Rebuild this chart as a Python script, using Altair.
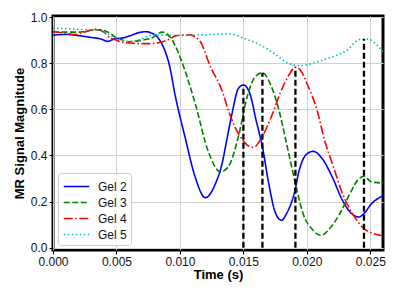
import altair as alt
import pandas as pd

# ---- data ----
gel2_t = [0, 0.001, 0.002, 0.003, 0.0038, 0.0043, 0.0048, 0.0055, 0.006, 0.0067, 0.0073, 0.0078,
          0.0082, 0.0087, 0.0092, 0.0096, 0.0104, 0.0112, 0.012, 0.0128, 0.0133, 0.0137, 0.0141,
          0.0146, 0.015, 0.0155, 0.016, 0.0165, 0.017, 0.0175, 0.018, 0.0184, 0.019, 0.0194,
          0.0199, 0.0205, 0.0212, 0.022, 0.0228, 0.0234, 0.0241, 0.0245, 0.0251, 0.0259, 0.026]
gel2_v = [0.922, 0.925, 0.92, 0.912, 0.905, 0.895, 0.905, 0.91, 0.918, 0.932, 0.937, 0.93,
          0.915, 0.87, 0.785, 0.668, 0.48, 0.307, 0.217, 0.278, 0.36, 0.47, 0.58,
          0.69, 0.706, 0.67, 0.553, 0.437, 0.278, 0.155, 0.119, 0.148, 0.235, 0.336,
          0.401, 0.418, 0.387, 0.307, 0.206, 0.155, 0.133, 0.148, 0.191, 0.223, 0.226]

gel3_t = [0, 0.001, 0.002, 0.003, 0.0037, 0.0045, 0.005, 0.0055, 0.006, 0.007, 0.0078, 0.0086,
          0.0092, 0.0096, 0.0101, 0.0112, 0.0122, 0.0132, 0.0138, 0.0146, 0.0153, 0.0159, 0.0165,
          0.0171, 0.0178, 0.0184, 0.0191, 0.0197, 0.0205, 0.0211, 0.0218, 0.0226, 0.0234, 0.024,
          0.0245, 0.0251, 0.0259, 0.026]
gel3_v = [0.937, 0.935, 0.935, 0.943, 0.945, 0.93, 0.91, 0.9, 0.893, 0.9, 0.91, 0.935,
          0.915, 0.88, 0.814, 0.626, 0.423, 0.329, 0.35, 0.48, 0.655, 0.74, 0.759,
          0.713, 0.597, 0.452, 0.278, 0.148, 0.075, 0.053, 0.083, 0.148, 0.235, 0.293,
          0.31, 0.285, 0.281, 0.281]

gel4_t = [0, 0.001, 0.0017, 0.0025, 0.0034, 0.004, 0.0045, 0.005, 0.0054, 0.0063, 0.007, 0.0078,
          0.0084, 0.0092, 0.0097, 0.0108, 0.0113, 0.0116, 0.0124, 0.0133, 0.0139, 0.0146, 0.0153,
          0.0158, 0.0164, 0.0172, 0.018, 0.0186, 0.0191, 0.0195, 0.02, 0.0208, 0.0214, 0.0221,
          0.0228, 0.0236, 0.0245, 0.0253, 0.0259]
gel4_v = [0.937, 0.93, 0.925, 0.935, 0.948, 0.935, 0.91, 0.9, 0.891, 0.887, 0.885, 0.885,
          0.89, 0.905, 0.92, 0.923, 0.91, 0.894, 0.785, 0.684, 0.582, 0.496, 0.445,
          0.435, 0.474, 0.568, 0.684, 0.75, 0.783, 0.77, 0.713, 0.597, 0.466, 0.35,
          0.235, 0.148, 0.083, 0.061, 0.053]

gel5_t = [0, 0.001, 0.002, 0.003, 0.0037, 0.0042, 0.005, 0.006, 0.0067, 0.0076, 0.0084, 0.01,
          0.0116, 0.014, 0.015, 0.0163, 0.0176, 0.0184, 0.0195, 0.0205, 0.0213, 0.0221, 0.0232,
          0.024, 0.0245, 0.0249, 0.0255, 0.026]
gel5_v = [0.952, 0.95, 0.947, 0.945, 0.945, 0.93, 0.909, 0.894, 0.9, 0.919, 0.923, 0.92,
          0.923, 0.927, 0.909, 0.88, 0.836, 0.803, 0.79, 0.8, 0.815, 0.829, 0.858,
          0.9, 0.906, 0.904, 0.88, 0.85]

series_names = ["Gel 2", "Gel 3", "Gel 4", "Gel 5"]
series_colors = ["#0000ff", "#008000", "#ff0000", "#00bfbf"]
series_dashes = [[1, 0], [6, 2.5], [9, 2.5, 1.5, 2.5], [1.5, 2.5]]

marker_t = [0.015, 0.0165, 0.0191, 0.0245]
marker_peak = [0.706, 0.759, 0.783, 0.905]

x_ticks = [0.0, 0.005, 0.010, 0.015, 0.020, 0.025]
y_ticks = [0.0, 0.2, 0.4, 0.6, 0.8, 1.0]

# ---- build tables ----
rows = []
for name, ts, vs in zip(series_names, [gel2_t, gel3_t, gel4_t, gel5_t],
                        [gel2_v, gel3_v, gel4_v, gel5_v]):
    for i, (t, v) in enumerate(zip(ts, vs)):
        rows.append({"t": t, "v": v, "gel": name, "order": i})
df = pd.DataFrame(rows)
markers = pd.DataFrame({"t": marker_t, "peak": marker_peak})

xscale = alt.Scale(domain=[0, 0.026], nice=False, zero=False)
yscale = alt.Scale(domain=[-0.01, 1.005], nice=False, zero=False)

lines = alt.Chart(df).mark_line(strokeWidth=1.6, interpolate="monotone", clip=True).encode(
    x=alt.X("t:Q", scale=xscale, title="Time (s)",
            axis=alt.Axis(values=x_ticks, format=".3f")),
    y=alt.Y("v:Q", scale=yscale, title="MR Signal Magnitude",
            axis=alt.Axis(values=y_ticks, format=".1f")),
    color=alt.Color("gel:N", title=None,
                    scale=alt.Scale(domain=series_names, range=series_colors)),
    strokeDash=alt.StrokeDash("gel:N", title=None,
                              scale=alt.Scale(domain=series_names, range=series_dashes)),
    order="order:Q",
)

rules = alt.Chart(markers).transform_calculate(base="0").mark_rule(
    color="black", strokeWidth=2.3, strokeDash=[6, 3]
).encode(
    x=alt.X("t:Q", scale=xscale),
    y=alt.Y("base:Q", scale=yscale),
    y2=alt.Y2("peak:Q"),
)

chart = alt.layer(lines, rules).properties(
    width=330, height=234,
    autosize=alt.AutoSizeParams(type="none"),
    padding={"left": 45, "top": 8, "right": 9, "bottom": 42},
).configure_view(
    stroke="black", strokeWidth=3
).configure_axis(
    grid=True, gridColor="#d0d0d0", gridWidth=1,
    domain=False, tickColor="black", tickSize=4, tickWidth=1,
    labelFont="Liberation Sans", labelFontSize=12, labelColor="#111",
    labelPadding=2,
    titleFont="Liberation Sans", titleFontSize=13, titleFontWeight="bold", titleColor="black",
).configure_axisX(
    titlePadding=1, labelFlush=False
).configure_axisY(
    titlePadding=4, labelFlush=False
).configure_legend(
    orient="none", legendX=5, legendY=157,
    strokeColor="#cccccc", fillColor="rgba(255,255,255,0.85)", cornerRadius=3,
    padding=4, symbolType="M-1.5,0H1.5", symbolSize=289, symbolStrokeWidth=1.6,
    symbolOffset=5, labelOffset=12,
    labelFont="Liberation Sans", labelFontSize=12, labelColor="#111",
    rowPadding=0,
)

chart.save("out.html", embed_options={"renderer": "svg", "actions": False})
